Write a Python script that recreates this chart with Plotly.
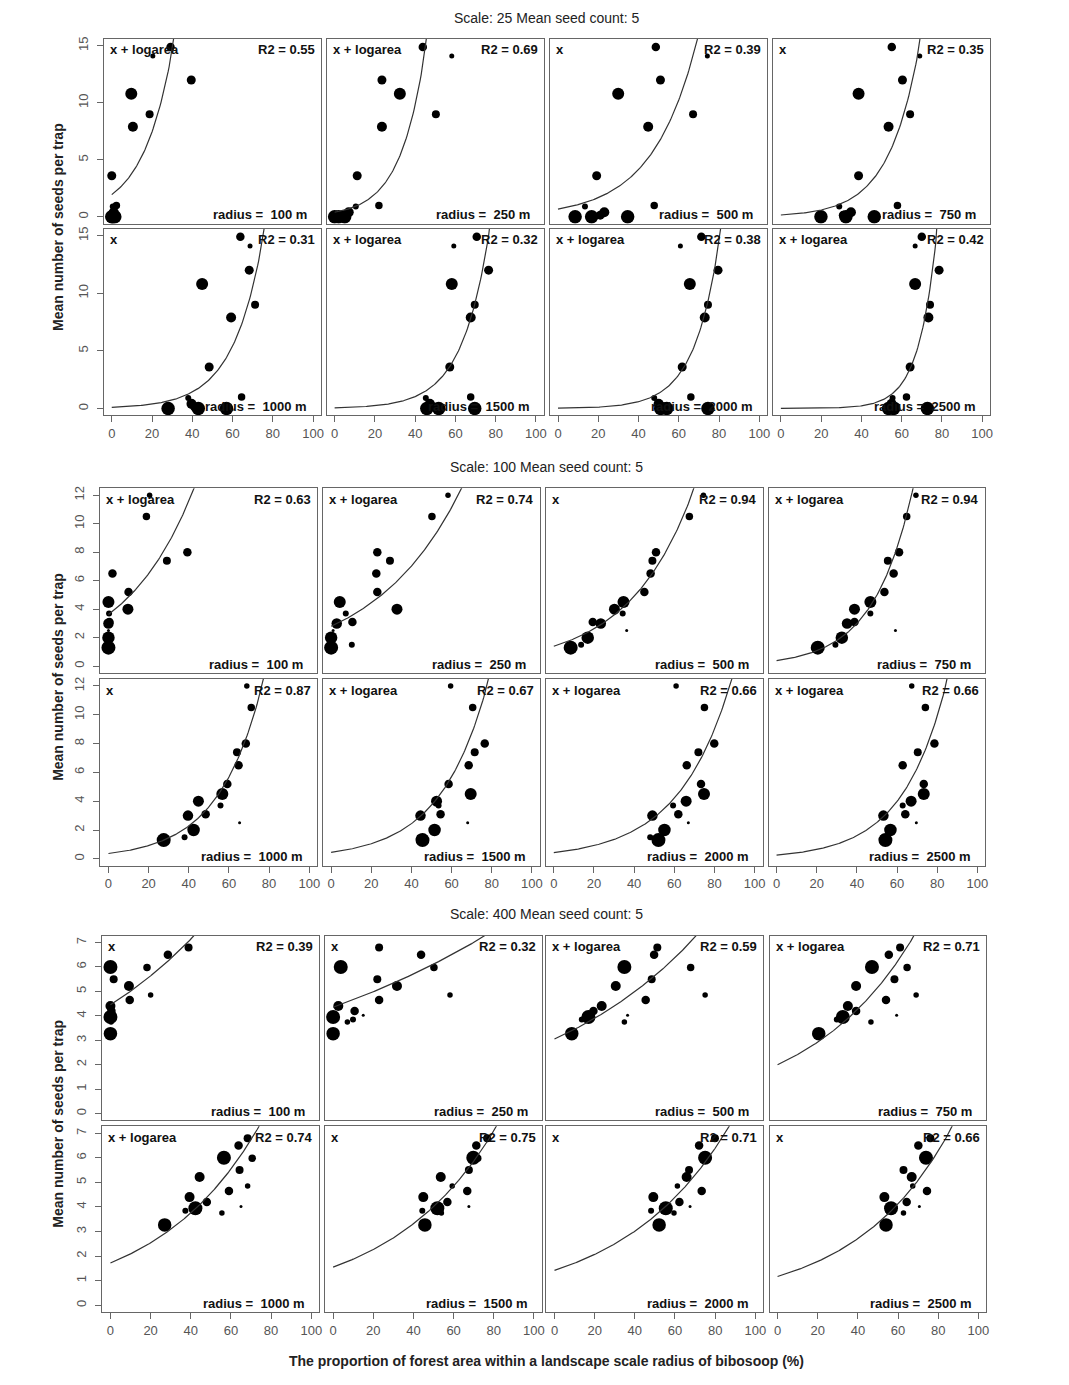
import numpy as np
import plotly.graph_objects as go

W, H = 1069, 1385

radii = [100, 250, 500, 750, 1000, 1500, 2000, 2500]
scales = [25, 100, 400]
y_max = {25: 15, 100: 12, 400: 7}
y_ticks = {25: [0, 5, 10, 15], 100: [0, 2, 4, 6, 8, 10, 12], 400: [0, 1, 2, 3, 4, 5, 6, 7]}
x_ticks = [0, 20, 40, 60, 80, 100]

# ---------------- Scale 25 ----------------
seeds_25 = [0, 0, 0, 0.4, 0.9, 1.0, 3.6, 7.9, 9.0, 10.8, 12.0, 14.9, 14.1, 0.15]
weight_25 = [13.5, 13.5, 13.5, 10, 6, 7.5, 9, 10, 8, 12, 9, 8.5, 5, 9]
forest_25 = [
    [0, 0.5, 1.5, 1.0, 0.5, 2.3, 0, 10.5, 18.8, 9.7, 39.5, 29.2, 20.4, 1.0],
    [0, 2, 5, 7, 10.5, 22, 11.2, 23.5, 50.3, 32.4, 23.5, 43.8, 58.2, 4],
    [8.5, 16.7, 34.6, 23.0, 13.4, 47.8, 19.2, 44.8, 67.1, 29.9, 50.9, 48.6, 74.2, 21],
    [19.9, 32.3, 46.4, 34.8, 29.0, 57.9, 38.6, 53.5, 64.2, 38.6, 60.4, 55.1, 69.0, 31],
    [28, 43, 57, 39.6, 38, 64.5, 48.4, 59.3, 71.2, 44.9, 68.3, 63.9, 68.7, 41.1],
    [45.8, 51.7, 69.6, 47.3, 45.3, 67.6, 57.2, 67.6, 69.6, 58.2, 76.5, 70.6, 59.2, 49],
    [51, 54, 74.5, 50, 47.8, 66.0, 61.7, 72.9, 74.5, 65.5, 79.5, 71.2, 60.8, 52.5],
    [53.5, 56, 72.8, 55, 55.5, 62.4, 64.2, 73.3, 74.1, 66.7, 78.6, 70.0, 66.7, 57],
]
model_25 = ["x + logarea", "x + logarea", "x", "x", "x", "x + logarea", "x + logarea", "x + logarea"]
r2_25 = ["0.55", "0.69", "0.39", "0.35", "0.31", "0.32", "0.38", "0.42"]
fit_y0_25 = [1.95, 0.4, 0.68, 0.16, 0.1, 0.055, 0.024, 0.0026]
fit_rate_25 = [0.067, 0.08, 0.0452, 0.066, 0.0665, 0.0733, 0.08, 0.112]

# ---------------- Scale 100 ----------------
seeds_100 = [1.3, 1.5, 2.0, 3.0, 3.1, 4.0, 4.5, 3.7, 2.5, 5.2, 6.5, 7.4, 8.0, 10.5, 12.0]
weight_100 = [14, 6, 12.5, 10.5, 8.5, 11, 12, 6, 3, 8.5, 8.5, 8, 8.5, 7.5, 5.5]
forest_100 = [
    [0, 0, 0, 0, 0.5, 9.7, 0, 0.3, 0, 10, 2, 29.1, 39.3, 18.9, 20.5],
    [0, 10.3, 0, 2.8, 10.6, 32.8, 4.3, 7.3, 1, 23, 22.5, 29.3, 23, 50.2, 58.2],
    [8.4, 13.6, 16.9, 23.4, 19.4, 30.2, 34.7, 34.3, 36.3, 45.1, 48.2, 49.1, 50.9, 67.5, 74.5],
    [20.5, 29.3, 32.5, 35.1, 38.8, 38.8, 46.7, 46.7, 59.2, 53.7, 58.3, 55.4, 61, 64.8, 69.4],
    [27.5, 37.9, 42.4, 39.6, 48.4, 44.8, 56.7, 55.8, 65.3, 59.2, 64.8, 64, 68.4, 71.1, 68.9],
    [45.5, 44, 51.5, 44.5, 54.5, 52.5, 69.5, 53.5, 68, 58.5, 68.5, 71.5, 76.5, 70.5, 59.5],
    [52.1, 48, 55.1, 49.1, 62, 65.9, 74.8, 59.4, 67, 73.3, 66.2, 72, 79.9, 75, 60.9],
    [54.2, 53, 56.7, 53.2, 64.1, 67, 73.3, 62.8, 69.6, 73.3, 62.8, 70.3, 78.6, 74.1, 67.3],
]
model_100 = ["x + logarea", "x + logarea", "x", "x + logarea", "x", "x + logarea", "x + logarea", "x + logarea"]
r2_100 = ["0.63", "0.74", "0.94", "0.94", "0.87", "0.67", "0.66", "0.66"]
fit_y0_100 = [3.63, 2.8, 1.4, 0.39, 0.37, 0.45, 0.43, 0.26]
fit_rate_100 = [0.029, 0.023, 0.0313, 0.051, 0.0455, 0.0423, 0.038, 0.0455]

# ---------------- Scale 400 ----------------
seeds_400 = [3.27, 3.85, 4.4, 3.95, 5.22, 4.2, 6.0, 3.75, 4.65, 6.5, 5.5, 4.02, 6.8, 4.85, 5.98]
weight_400 = [13.5, 6, 10, 14, 10, 8.5, 14, 5.5, 8.5, 8.5, 8, 3, 8, 5.5, 7.5]
forest_400 = [
    [0, 0.5, 0, 0, 9.2, 0.5, 0, 0.3, 9.6, 28.6, 1.6, 0.5, 38.9, 20, 18.2],
    [0, 9.9, 2.6, 0, 31.8, 10.7, 3.8, 7.1, 22.9, 43.8, 22, 15, 22.9, 58.2, 50.2],
    [8.6, 13.6, 23.5, 16.9, 30.5, 19.4, 34.8, 34.8, 45.4, 49.6, 48.4, 36.4, 51.2, 75, 67.8],
    [20.5, 29.5, 35, 32.5, 39.1, 39.1, 47, 46.5, 54, 55.4, 58.2, 59.3, 61, 69, 64.5],
    [27, 37.3, 39.4, 42.3, 44.4, 48, 56.5, 55.5, 59, 63.8, 64.3, 65, 68.3, 68.3, 70.6],
    [45.7, 44.4, 44.9, 51.9, 53.6, 56.9, 69.8, 53.9, 66.8, 71.3, 67.6, 67.6, 76.7, 59.3, 72],
    [52.1, 48.1, 49.2, 55.4, 65.8, 62.2, 75, 59.5, 73.3, 72, 67, 67.5, 79.9, 61.2, 75.5],
    [54, 55, 53.2, 56.5, 66.8, 64.3, 73.9, 62.7, 74.4, 70.1, 62.7, 70.6, 76.1, 67.3, 74.5],
]
model_400 = ["x", "x", "x + logarea", "x + logarea", "x + logarea", "x", "x", "x"]
r2_400 = ["0.39", "0.32", "0.59", "0.71", "0.74", "0.75", "0.71", "0.66"]
fit_y0_400 = [4.45, 4.35, 3.05, 2.0, 1.72, 1.55, 1.42, 1.17]
fit_rate_400 = [0.0118, 0.0068, 0.0123, 0.019, 0.0195, 0.019, 0.0188, 0.021]

groups = {
    25: (seeds_25, weight_25, forest_25, model_25, r2_25, fit_y0_25, fit_rate_25),
    100: (seeds_100, weight_100, forest_100, model_100, r2_100, fit_y0_100, fit_rate_100),
    400: (seeds_400, weight_400, forest_400, model_400, r2_400, fit_y0_400, fit_rate_400),
}

# ---------------- layout geometry (pixels) ----------------
col_left = {25: [104, 327.5, 551.5, 775], 100: [100.7, 324, 547.3, 770.7], 400: [102.7, 326, 548, 771.7]}
col_w = {25: 218, 100: 217.5, 400: 217.5}
row_tb = {25: [(37, 222), (227, 414)], 100: [(487, 672), (678, 865)], 400: [(935, 1120), (1126, 1312)]}
title_y = {25: 16, 100: 466, 400: 913}

FONT = "Liberation Sans, Arial, Helvetica, sans-serif"
def PX(x):
    return x / W
def PY(y):
    return 1 - y / H

fig = go.Figure()
layout = dict(width=W, height=H, margin=dict(l=0, r=0, t=0, b=0),
              paper_bgcolor="white", plot_bgcolor="white", showlegend=False,
              font=dict(family=FONT))
annotations = []
xs_curve = np.linspace(0, 100, 201)

n = 0
for s in scales:
    seeds, weight, forest, model, r2, fy0, frate = groups[s]
    ymax = y_max[s]
    for p, rad in enumerate(radii):
        n += 1
        row, col = p // 4, p % 4
        l = col_left[s][col]
        r = l + col_w[s]
        t, b = row_tb[s][row]
        xa = "xaxis" if n == 1 else f"xaxis{n}"
        ya = "yaxis" if n == 1 else f"yaxis{n}"
        xr = "x" if n == 1 else f"x{n}"
        yr = "y" if n == 1 else f"y{n}"
        layout[xa] = dict(domain=[PX(l), PX(r)], range=[-4, 104], anchor=yr,
                          showline=True, mirror=True, linecolor="#666", linewidth=1,
                          showgrid=False, zeroline=False, tickvals=x_ticks,
                          showticklabels=(row == 1), ticks="outside" if row == 1 else "",
                          ticklen=6, tickcolor="#666",
                          tickfont=dict(family=FONT, size=13, color="#555"))
        layout[ya] = dict(domain=[PY(b), PY(t)], range=[-0.04 * ymax, 1.04 * ymax], anchor=xr,
                          showline=True, mirror=True, linecolor="#666", linewidth=1,
                          showgrid=False, zeroline=False, tickvals=y_ticks[s],
                          showticklabels=(col == 0), ticks="outside" if col == 0 else "",
                          ticklen=6, tickcolor="#666", tickangle=-90, ticklabelstandoff=4,
                          tickfont=dict(family=FONT, size=13, color="#555"))
        fig.add_trace(go.Scatter(x=forest[p], y=seeds, mode="markers", xaxis=xr, yaxis=yr,
                                 marker=dict(color="black", size=weight, opacity=1,
                                             line=dict(width=0)),
                                 hoverinfo="skip"))
        ys_curve = fy0[p] * np.exp(frate[p] * xs_curve)
        fig.add_trace(go.Scatter(x=xs_curve, y=ys_curve, mode="lines", xaxis=xr, yaxis=yr,
                                 line=dict(color="#333", width=1.2), hoverinfo="skip"))
        annotations.append(dict(x=PX(l + 4), y=PY(t + 11), xref="paper", yref="paper",
                                text=model[p], showarrow=False, xanchor="left", yanchor="middle",
                                font=dict(family=FONT, size=13, color="#111", weight="bold")))
        annotations.append(dict(x=PX(r - 4), y=PY(t + 11), xref="paper", yref="paper",
                                text=f"R2 = {r2[p]}", showarrow=False, xanchor="right", yanchor="middle",
                                font=dict(family=FONT, size=13, color="#111", weight="bold")))
        annotations.append(dict(x=PX(r - 12), y=PY(b - 9), xref="paper", yref="paper",
                                text=f"radius = \u00a0{rad} m", showarrow=False, xanchor="right",
                                yanchor="middle",
                                font=dict(family=FONT, size=13, color="#111", weight="bold")))
    # group title
    annotations.append(dict(x=PX(548), y=PY(title_y[s]), xref="paper", yref="paper",
                            text=f"Scale: {s} Mean seed count: 5", showarrow=False,
                            xanchor="center", yanchor="middle",
                            font=dict(family=FONT, size=14, color="#222")))
    top = row_tb[s][0][0]
    bot = row_tb[s][1][1]
    annotations.append(dict(x=PX(58), y=PY((top + bot) / 2), xref="paper", yref="paper",
                            text="Mean number of seeds per trap", showarrow=False, textangle=-90,
                            xanchor="center", yanchor="middle",
                            font=dict(family=FONT, size=14, color="#222", weight="bold")))

annotations.append(dict(x=PX(548), y=PY(1361), xref="paper", yref="paper",
                        text="The proportion of forest area within a landscape scale radius of bibosoop (%)",
                        showarrow=False, xanchor="center", yanchor="middle",
                        font=dict(family=FONT, size=14, color="#222", weight="bold")))
layout["annotations"] = annotations
fig.update_layout(**layout)
fig.write_html("out.html")
